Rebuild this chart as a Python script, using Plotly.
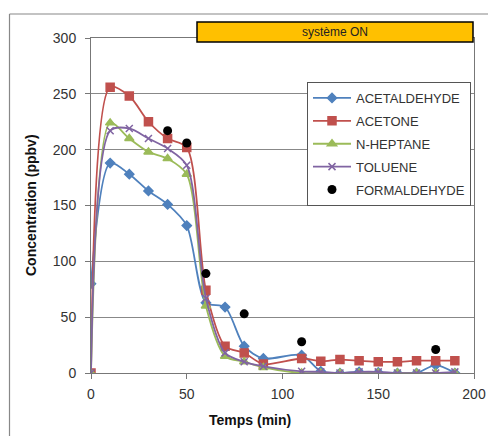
import plotly.graph_objects as go

time = [0, 10, 20, 30, 40, 50, 60, 70, 80, 90, 110, 120, 130, 140, 150, 160, 170, 180, 190]
acetaldehyde = [80, 188, 178, 163, 151, 132, 63, 59, 24, 13, 16, 1.5, 0, 1, 0.5, 0, 0, 7, 0]
acetone = [0, 256, 248, 225, 210, 202, 74, 24, 18, 8, 13, 10.5, 12, 11, 10, 10, 11, 11, 11]
heptane = [0, 224, 210, 198, 192, 178, 60, 15, 10, 5, 0, 0, 0, 0, 0, 0, 0, 0, 0]
toluene = [0, 217, 219, 210, 201, 186, 67, 18, 10, 6, 1.5, 1, 0, 1, 1, 0, 0, 0, 1]
form_time = [40, 50, 60, 80, 110, 180]
formaldehyde = [217, 206, 89, 53, 28, 21]

FONT = "Liberation Sans, Arial, sans-serif"

fig = go.Figure()
series = [
    ("ACETALDEHYDE", acetaldehyde, "#4F81BD", "diamond", 7),
    ("ACETONE", acetone, "#C0504D", "square", 8),
    ("N-HEPTANE", heptane, "#9BBB59", "triangle-up", 8),
    ("TOLUENE", toluene, "#8064A2", "x-thin", 7),
]
for name, vals, col, sym, sz in series:
    fig.add_trace(go.Scatter(
        x=time, y=vals, name=name, mode="lines+markers", legendgroup=name,
        line=dict(color=col, width=1.8, shape="spline", smoothing=0.8),
        marker=dict(symbol=sym, size=sz, color=col, line=dict(color=col, width=1.5)),
    ))
fig.add_trace(go.Scatter(
    x=form_time, y=formaldehyde, name="FORMALDEHYDE", mode="markers", legendgroup="FORMALDEHYDE",
    marker=dict(symbol="circle", size=9, color="black"),
))

L, R, T, B = 91, 14, 38, 63
W, H = 488, 436
pw, ph = W - L - R, H - T - B

def px(xp):
    return (xp - L) / pw

def py(yp):
    return (H - B - yp) / ph

fig.update_layout(
    width=W, height=H, autosize=False,
    margin=dict(l=L, r=R, t=T, b=B, autoexpand=False),
    paper_bgcolor="white", plot_bgcolor="white",
    font=dict(family=FONT, color="#222", size=14),
    showlegend=True,
    legend=dict(
        x=px(307), y=py(82), xanchor="left", yanchor="top",
        bgcolor="white", bordercolor="#555", borderwidth=1,
        font=dict(size=13, color="#333"),
        itemwidth=38, tracegroupgap=3, groupclick="toggleitem",
    ),
    xaxis=dict(
        range=[0, 200], tickvals=[0, 50, 100, 150, 200],
        showgrid=False, zeroline=False,
        showline=True, linecolor="#777", linewidth=1, mirror=True,
        ticks="outside", ticklen=5, tickcolor="#777",
        ticklabelstandoff=3,
        tickfont=dict(size=14, color="#333"),
    ),
    yaxis=dict(
        range=[0, 300], tickvals=[0, 50, 100, 150, 200, 250, 300],
        showgrid=True, gridcolor="#888", gridwidth=1, zeroline=False,
        showline=True, linecolor="#777", linewidth=1, mirror=True,
        ticks="outside", ticklen=5, tickcolor="#777",
        ticklabelstandoff=6,
        tickfont=dict(size=14, color="#333"),
    ),
    shapes=[
        dict(type="line", xref="paper", yref="paper",
             x0=px(9.5), x1=px(488), y0=py(14), y1=py(14),
             line=dict(color="#888", width=1.2), layer="below"),
        dict(type="line", xref="paper", yref="paper",
             x0=px(9.5), x1=px(9.5), y0=py(14), y1=py(436),
             line=dict(color="#888", width=1.2), layer="below"),
        dict(type="rect", xref="paper", yref="paper",
             x0=px(197), x1=px(473), y0=py(42), y1=py(22),
             line=dict(color="black", width=1.5), fillcolor="#FFC000", layer="above"),
    ],
    annotations=[
        dict(text="système ON", xref="paper", yref="paper",
             x=(px(197) + px(473)) / 2, y=(py(42) + py(22)) / 2,
             xanchor="center", yanchor="middle",
             showarrow=False, font=dict(size=12, color="#222")),
        dict(text="<b>Concentration (ppbv)</b>", xref="paper", yref="paper",
             x=px(31), y=py(205), textangle=-90, showarrow=False,
             xanchor="center", yanchor="middle",
             font=dict(size=14, color="#111")),
        dict(text="<b>Temps (min)</b>", xref="paper", yref="paper",
             x=px(250), y=py(420), showarrow=False,
             xanchor="center", yanchor="middle",
             font=dict(size=14, color="#111")),
    ],
)

fig.write_html("out.html", config={"responsive": False})
